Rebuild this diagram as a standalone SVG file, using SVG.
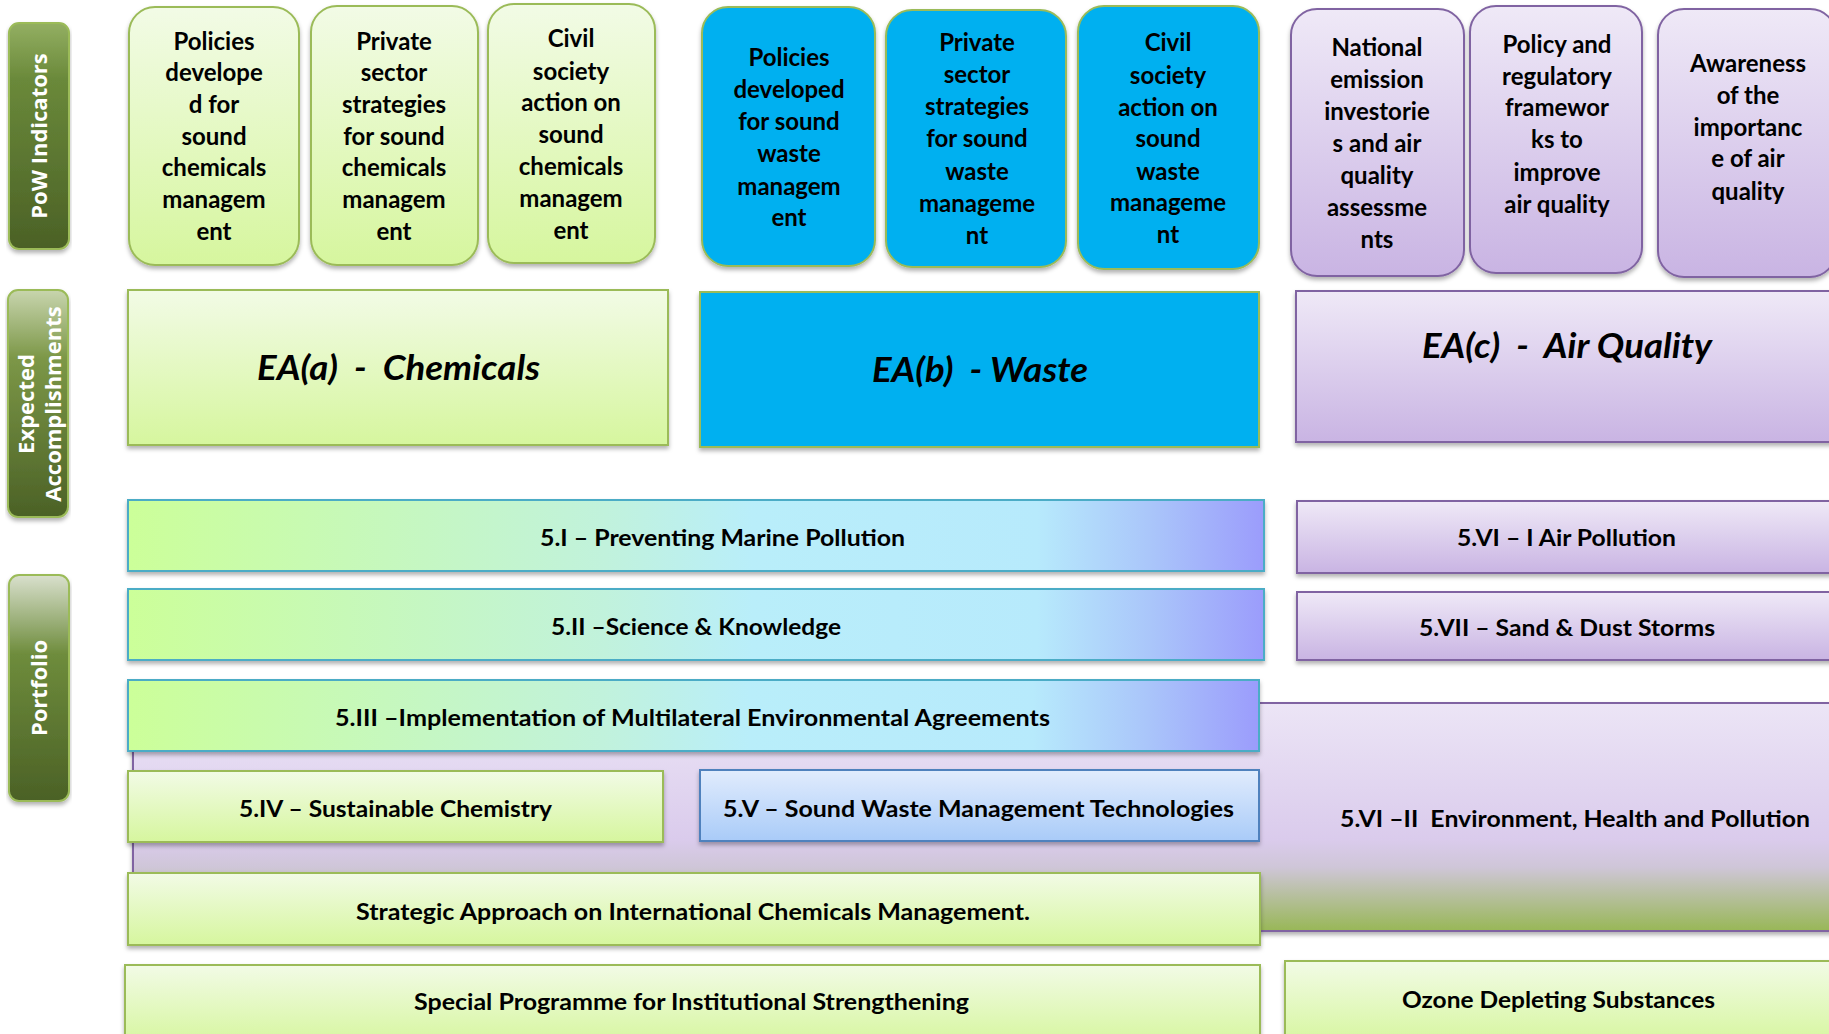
<svg xmlns="http://www.w3.org/2000/svg" width="1829" height="1034" viewBox="0 0 1829 1034">
<defs>
<linearGradient id="gGreen" x1="0" y1="0" x2="0" y2="1"><stop offset="0" stop-color="#f2fbe6"/><stop offset="1" stop-color="#d6f69e"/></linearGradient>
<linearGradient id="gPurple" x1="0" y1="0" x2="0" y2="1"><stop offset="0" stop-color="#efe9f7"/><stop offset="1" stop-color="#c9b4e3"/></linearGradient>
<linearGradient id="gBlueLt" x1="0" y1="0" x2="0" y2="1"><stop offset="0" stop-color="#e1ecfd"/><stop offset="1" stop-color="#a9cbf8"/></linearGradient>
<linearGradient id="gBar" x1="0" y1="0" x2="1" y2="0"><stop offset="0" stop-color="#ccff99"/><stop offset="0.42" stop-color="#c1f2dc"/><stop offset="0.55" stop-color="#b9eefa"/><stop offset="0.8" stop-color="#b7eafc"/><stop offset="0.9" stop-color="#aac6fa"/><stop offset="1" stop-color="#9b9cfc"/></linearGradient>
<linearGradient id="gBig" x1="0" y1="0" x2="0" y2="1"><stop offset="0" stop-color="#ece5f6"/><stop offset="0.6" stop-color="#dacbec"/><stop offset="0.72" stop-color="#cfc6d8"/><stop offset="1" stop-color="#98b756"/></linearGradient>
<linearGradient id="gTab1" x1="0" y1="0" x2="0" y2="1"><stop offset="0" stop-color="#93af62"/><stop offset="0.25" stop-color="#6a893a"/><stop offset="1" stop-color="#4b6126"/></linearGradient>
<linearGradient id="gTab2" x1="0" y1="0" x2="0" y2="1"><stop offset="0" stop-color="#c8d5ae"/><stop offset="0.3" stop-color="#7c9747"/><stop offset="1" stop-color="#4b6126"/></linearGradient>
<linearGradient id="gTab3" x1="0" y1="0" x2="0" y2="1"><stop offset="0" stop-color="#d9e0cd"/><stop offset="0.35" stop-color="#6e8c3c"/><stop offset="1" stop-color="#4b6126"/></linearGradient>
<filter id="sh" x="-5%" y="-5%" width="110%" height="120%"><feDropShadow dx="0" dy="3" stdDeviation="2" flood-color="#000" flood-opacity="0.3"/></filter>
</defs>
<style>
.ind{font-family:Lato,"Liberation Sans",sans-serif;font-weight:700;font-size:24px;fill:#000;text-anchor:middle}
.lbl{font-family:Lato,"Liberation Sans",sans-serif;font-weight:700;font-size:22px;fill:#000;white-space:pre}
.ea{font-family:Lato,"Liberation Sans",sans-serif;font-weight:700;font-style:italic;font-size:34px;fill:#000;white-space:pre}
.tab{font-family:"Open Sans","DejaVu Sans",sans-serif;font-weight:700;font-size:22px;fill:#fff;text-anchor:middle}
.gr{fill:url(#gGreen);stroke:#9bbb59;stroke-width:2}
.bl{fill:#00b0f0;stroke:#9bbb59;stroke-width:2}
.pu{fill:url(#gPurple);stroke:#8064a2;stroke-width:2}
.bar{fill:url(#gBar);stroke:#4bacc6;stroke-width:2}
.blt{fill:url(#gBlueLt);stroke:#4f81bd;stroke-width:2}
.tb{stroke:#9bbb59;stroke-width:2}
</style>

<g id="tabs">
<g id="tab-pow"><rect class="tb" x="9" y="23" width="60" height="226" rx="10" fill="url(#gTab1)" filter="url(#sh)"/><text class="tab" transform="translate(47,136) rotate(-90)">PoW Indicators</text></g>
<g id="tab-ea"><rect class="tb" x="8" y="290" width="60" height="227" rx="10" fill="url(#gTab2)" filter="url(#sh)"/><text class="tab" transform="translate(34,404) rotate(-90)">Expected</text><text class="tab" transform="translate(61,404) rotate(-90)">Accomplishments</text></g>
<g id="tab-portfolio"><rect class="tb" x="9" y="575" width="60" height="226" rx="10" fill="url(#gTab3)" filter="url(#sh)"/><text class="tab" transform="translate(47,688) rotate(-90)">Portfolio</text></g>
</g>

<g id="ind-a1"><rect class="gr" x="129" y="7" width="170" height="258" rx="26" filter="url(#sh)"/>
<text class="ind"><tspan x="214" y="50">Policies</tspan><tspan x="214" y="81">develope</tspan><tspan x="214" y="113">d for</tspan><tspan x="214" y="145">sound</tspan><tspan x="214" y="176">chemicals</tspan><tspan x="214" y="208">managem</tspan><tspan x="214" y="240">ent</tspan></text></g>
<g id="ind-a2"><rect class="gr" x="311" y="6" width="167" height="259" rx="26" filter="url(#sh)"/>
<text class="ind"><tspan x="394" y="50">Private</tspan><tspan x="394" y="81">sector</tspan><tspan x="394" y="113">strategies</tspan><tspan x="394" y="145">for sound</tspan><tspan x="394" y="176">chemicals</tspan><tspan x="394" y="208">managem</tspan><tspan x="394" y="240">ent</tspan></text></g>
<g id="ind-a3"><rect class="gr" x="488" y="4" width="167" height="259" rx="26" filter="url(#sh)"/>
<text class="ind"><tspan x="571" y="47">Civil</tspan><tspan x="571" y="80">society</tspan><tspan x="571" y="111">action on</tspan><tspan x="571" y="143">sound</tspan><tspan x="571" y="175">chemicals</tspan><tspan x="571" y="207">managem</tspan><tspan x="571" y="239">ent</tspan></text></g>

<g id="ind-b1"><rect class="bl" x="702" y="7" width="173" height="259" rx="26" filter="url(#sh)"/>
<text class="ind"><tspan x="789" y="66">Policies</tspan><tspan x="789" y="98">developed</tspan><tspan x="789" y="130">for sound</tspan><tspan x="789" y="162">waste</tspan><tspan x="789" y="195">managem</tspan><tspan x="789" y="226">ent</tspan></text></g>
<g id="ind-b2"><rect class="bl" x="886" y="10" width="180" height="257" rx="26" filter="url(#sh)"/>
<text class="ind"><tspan x="977" y="51">Private</tspan><tspan x="977" y="83">sector</tspan><tspan x="977" y="115">strategies</tspan><tspan x="977" y="147">for sound</tspan><tspan x="977" y="180">waste</tspan><tspan x="977" y="212">manageme</tspan><tspan x="977" y="244">nt</tspan></text></g>
<g id="ind-b3"><rect class="bl" x="1078" y="6" width="181" height="263" rx="26" filter="url(#sh)"/>
<text class="ind"><tspan x="1168" y="51">Civil</tspan><tspan x="1168" y="84">society</tspan><tspan x="1168" y="116">action on</tspan><tspan x="1168" y="147">sound</tspan><tspan x="1168" y="180">waste</tspan><tspan x="1168" y="211">manageme</tspan><tspan x="1168" y="243">nt</tspan></text></g>

<g id="ind-c1"><rect class="pu" x="1291" y="9" width="173" height="267" rx="26" filter="url(#sh)"/>
<text class="ind"><tspan x="1377" y="56">National</tspan><tspan x="1377" y="88">emission</tspan><tspan x="1377" y="120">investorie</tspan><tspan x="1377" y="152">s and air</tspan><tspan x="1377" y="184">quality</tspan><tspan x="1377" y="216">assessme</tspan><tspan x="1377" y="248">nts</tspan></text></g>
<g id="ind-c2"><rect class="pu" x="1470" y="6" width="172" height="267" rx="26" filter="url(#sh)"/>
<text class="ind"><tspan x="1557" y="53">Policy and</tspan><tspan x="1557" y="85">regulatory</tspan><tspan x="1557" y="116">framewor</tspan><tspan x="1557" y="148">ks to</tspan><tspan x="1557" y="181">improve</tspan><tspan x="1557" y="213">air quality</tspan></text></g>
<g id="ind-c3"><rect class="pu" x="1658" y="9" width="178" height="268" rx="26" filter="url(#sh)"/>
<text class="ind"><tspan x="1748" y="72">Awareness</tspan><tspan x="1748" y="104">of the</tspan><tspan x="1748" y="136">importanc</tspan><tspan x="1748" y="167">e of air</tspan><tspan x="1748" y="200">quality</tspan></text></g>

<g id="ea-a"><rect class="gr" x="128" y="290" width="540" height="155" filter="url(#sh)"/><text class="ea" x="257" y="380" textLength="283" lengthAdjust="spacingAndGlyphs">EA(a)  -  Chemicals</text></g>
<g id="ea-b"><rect class="bl" x="700" y="292" width="559" height="155" filter="url(#sh)"/><text class="ea" x="872" y="382" textLength="216" lengthAdjust="spacingAndGlyphs">EA(b)  - Waste</text></g>
<g id="ea-c"><rect class="pu" x="1296" y="291" width="545" height="151" filter="url(#sh)"/><text class="ea" x="1422" y="358" textLength="290" lengthAdjust="spacingAndGlyphs">EA(c)  -  Air Quality</text></g>

<g id="p-6-2"><rect x="133" y="703" width="1710" height="228" fill="url(#gBig)" stroke="#8064a2" stroke-width="2" filter="url(#sh)"/><text class="lbl" x="1340" y="827" textLength="470" lengthAdjust="spacingAndGlyphs">5.VI –II  Environment, Health and Pollution</text></g>

<g id="p-1"><rect class="bar" x="128" y="500" width="1136" height="71" filter="url(#sh)"/><text class="lbl" x="540" y="546" textLength="365" lengthAdjust="spacingAndGlyphs">5.I – Preventing Marine Pollution</text></g>
<g id="p-2"><rect class="bar" x="128" y="589" width="1136" height="71" filter="url(#sh)"/><text class="lbl" x="551" y="635" textLength="290" lengthAdjust="spacingAndGlyphs">5.II –Science &amp; Knowledge</text></g>
<g id="p-3"><rect class="bar" x="128" y="680" width="1131" height="71" filter="url(#sh)"/><text class="lbl" x="335" y="726" textLength="715" lengthAdjust="spacingAndGlyphs">5.III –Implementation of Multilateral Environmental Agreements</text></g>
<g id="p-4"><rect class="gr" x="128" y="771" width="535" height="71" filter="url(#sh)"/><text class="lbl" x="239" y="817" textLength="313" lengthAdjust="spacingAndGlyphs">5.IV – Sustainable Chemistry</text></g>
<g id="p-5"><rect class="blt" x="700" y="770" width="559" height="71" filter="url(#sh)"/><text class="lbl" x="723" y="817" textLength="511" lengthAdjust="spacingAndGlyphs">5.V – Sound Waste Management Technologies</text></g>
<g id="p-saicm"><rect class="gr" x="128" y="873" width="1132" height="72" filter="url(#sh)"/><text class="lbl" x="356" y="920" textLength="674" lengthAdjust="spacingAndGlyphs">Strategic Approach on International Chemicals Management.</text></g>
<g id="p-special"><rect class="gr" x="125" y="965" width="1135" height="80" filter="url(#sh)"/><text class="lbl" x="414" y="1010" textLength="555" lengthAdjust="spacingAndGlyphs">Special Programme for Institutional Strengthening</text></g>

<g id="p-6-1"><rect class="pu" x="1297" y="501" width="545" height="72" filter="url(#sh)"/><text class="lbl" x="1457" y="546" textLength="219" lengthAdjust="spacingAndGlyphs">5.VI – I Air Pollution</text></g>
<g id="p-7"><rect class="pu" x="1297" y="592" width="545" height="68" filter="url(#sh)"/><text class="lbl" x="1419" y="636" textLength="296" lengthAdjust="spacingAndGlyphs">5.VII – Sand &amp; Dust Storms</text></g>
<g id="p-ozone"><rect class="gr" x="1285" y="961" width="560" height="84" filter="url(#sh)"/><text class="lbl" x="1402" y="1008" textLength="313" lengthAdjust="spacingAndGlyphs">Ozone Depleting Substances</text></g>

<g id="connectors"/>
</svg>
